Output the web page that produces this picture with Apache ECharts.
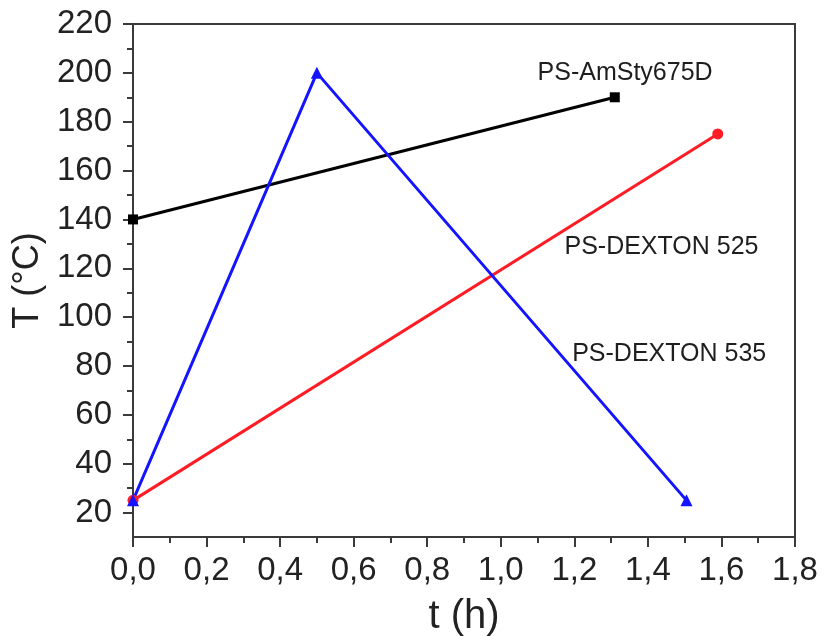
<!DOCTYPE html>
<html><head><meta charset="utf-8">
<script src="https://cdn.jsdelivr.net/npm/echarts@6/dist/echarts.min.js"></script>
<style>html,body{margin:0;padding:0;background:#fff}#c{width:827px;height:636px}</style>
</head><body><div id="c"></div>
<script>
var amStyT = [0, 1.31];
var amStyV = [140, 190];
var dex525T = [0, 1.59];
var dex525V = [25, 175];
var dex535T = [0, 0.5, 1.505];
var dex535V = [25, 200, 25];
var yTicks = [20, 40, 60, 80, 100, 120, 140, 160, 180, 200, 220];
var yMinor = [30, 50, 70, 90, 110, 130, 150, 170, 190, 210];
var annNames = ['PS-AmSty675D', 'PS-DEXTON 525', 'PS-DEXTON 535'];
var annX = [1.338, 1.437, 1.458];
var annY = [200.0, 128.8, 85.0];

function pairs(xs, ys){ return xs.map(function(x,i){ return [x, ys[i]]; }); }
var font = 'Liberation Sans, Arial, sans-serif';
var axisCol = '#3a3a3a';

var chart = echarts.init(document.getElementById('c'));
chart.setOption({
  animation: false,
  backgroundColor: '#fff',
  grid: { left: 133, right: 32, top: 24, bottom: 99, outerBoundsMode: 'none', containLabel: false,
          show: true, borderColor: axisCol, borderWidth: 2, backgroundColor: 'transparent' },
  xAxis: {
    type: 'value', min: 0, max: 1.8, interval: 0.2,
    name: 't (h)', nameLocation: 'middle', nameGap: 60,
    nameTextStyle: { fontFamily: font, fontSize: 40, color: '#222' },
    axisLine: { show: true, lineStyle: { color: axisCol, width: 2 } },
    axisTick: { show: true, inside: false, length: 10, lineStyle: { color: axisCol, width: 2 } },
    minorTick: { show: true, splitNumber: 2, length: 6, lineStyle: { color: axisCol, width: 2 } },
    splitLine: { show: false },
    axisLabel: { fontFamily: font, fontSize: 33, color: '#222', margin: 17,
      formatter: function(v){ return v.toFixed(1).replace('.', ','); } }
  },
  yAxis: [{
    type: 'value', min: 10, max: 220,
    name: 'T (°C)', nameLocation: 'middle', nameGap: 78,
    nameTextStyle: { fontFamily: font, fontSize: 36, color: '#222' },
    axisLine: { show: true, lineStyle: { color: axisCol, width: 2 } },
    axisTick: { show: true, inside: false, length: 10, customValues: yTicks, lineStyle: { color: axisCol, width: 2 } },
    splitLine: { show: false },
    axisLabel: { fontFamily: font, fontSize: 33, color: '#222', margin: 21, customValues: yTicks }
  }, {
    type: 'value', min: 10, max: 220, position: 'left', offset: 0,
    axisLine: { show: false },
    axisTick: { show: true, inside: false, length: 6, customValues: yMinor, lineStyle: { color: axisCol, width: 2 } },
    axisLabel: { show: false, customValues: yMinor },
    splitLine: { show: false }
  }],
  series: [
    { type: 'line', name: 'PS-AmSty675D', data: pairs(amStyT, amStyV), symbol: 'rect', symbolSize: 10,
      lineStyle: { color: '#000', width: 3 }, itemStyle: { color: '#000' } },
    { type: 'line', name: 'PS-DEXTON 525', data: pairs(dex525T, dex525V), symbol: 'circle', symbolSize: 11,
      lineStyle: { color: '#ff1c24', width: 3 }, itemStyle: { color: '#ff1c24' } },
    { type: 'line', name: 'PS-DEXTON 535', data: pairs(dex535T, dex535V), symbol: 'triangle', symbolSize: 12,
      lineStyle: { color: '#1414ff', width: 3 }, itemStyle: { color: '#1414ff' } },
    { type: 'scatter', symbolSize: 0, silent: true, itemStyle: { opacity: 1, color: 'transparent' },
      data: annNames.map(function(n,i){ return { name: n, value: [annX[i], annY[i]] }; }),
      label: { show: true, position: 'inside', formatter: '{b}', fontFamily: font, fontSize: 25, color: '#1e1e1e', opacity: 1 } }
  ]
});
</script></body></html>
